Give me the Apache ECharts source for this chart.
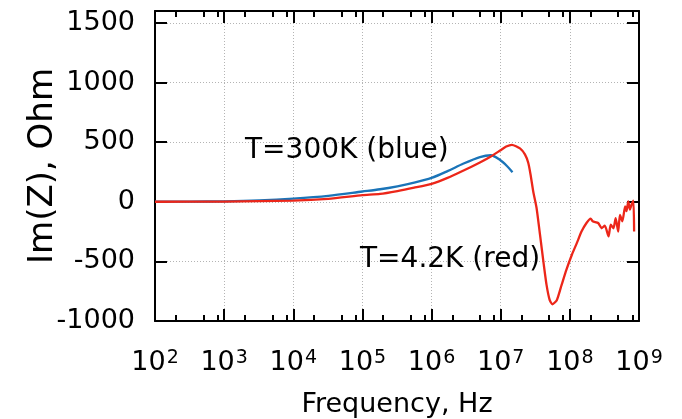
<!DOCTYPE html>
<html>
<head>
<meta charset="utf-8">
<script src="https://cdn.jsdelivr.net/npm/echarts@6/dist/echarts.min.js"></script>
<style>
  html, body { margin: 0; padding: 0; background: #fff; }
  #chart { width: 682px; height: 419px; }
</style>
</head>
<body>
<div id="chart"></div>
<script>
// Imaginary part of impedance vs frequency at two temperatures

// T = 300 K (blue)
const freqBlue = [1e2, 3.2e2, 1e3, 3.2e3, 1e4, 3.2e4, 1e5, 1.8e5, 3.2e5, 5.6e5,
  1e6, 1.7e6, 2.9e6, 5e6, 7.2e6, 9.8e6, 1.23e7, 1.48e7];
const imzBlue = [0, 1, 4, 12, 27, 50, 86, 105, 130, 160,
  200, 257, 321, 375, 390, 350, 300, 248];

// T = 4.2 K (red)
const freqRed = [1e2, 1e3, 1e4, 3.2e4, 1e5, 1.8e5, 3.2e5, 5.6e5, 1e6, 1.7e6,
  2.9e6, 5e6, 7.1e6, 9.8e6, 1.2e7, 1.45e7, 1.9e7, 2.24e7, 2.5e7, 2.7e7,
  2.95e7, 3.3e7, 3.7e7, 4.2e7, 4.6e7, 5.1e7, 5.6e7, 6.5e7, 7.6e7, 8.9e7,
  1.07e8, 1.26e8, 1.48e8, 1.74e8, 2.0e8, 2.14e8, 2.57e8, 2.88e8, 3.2e8, 3.63e8,
  3.9e8, 4.27e8, 4.6e8, 5.0e8, 5.3e8, 5.75e8, 6.3e8, 6.6e8, 7.0e8, 7.4e8,
  7.8e8, 8.3e8, 8.5e8];
const imzRed = [0, 2, 10, 25, 55, 66, 90, 118, 150, 200,
  262, 330, 378, 430, 463, 478, 448, 397, 327, 229,
  88, -52, -276, -529, -697, -823, -860, -823, -697, -571,
  -444, -347, -248, -178, -141, -164, -178, -222, -200, -290,
  -191, -222, -138, -250, -110, -164, -38, -79, 4, -66,
  -24, 10, -250];

// Axis ticks
const xMin = 1e2, xMax = 1e9;
const xMinorMultipliers = [2, 5, 8];
const yMin = -1000, yMax = 1600, yStep = 500;

const xMinorTicks = [];
for (let v = xMin; v < xMax; v *= 10) {
  xMinorMultipliers.forEach(m => xMinorTicks.push(v * m));
}

const FONT = 'DejaVu Sans';
const frameLine = { show: true, onZero: false, lineStyle: { color: '#000', width: 2 } };
const gridLine = { show: true, lineStyle: { color: '#b4b4b4', width: 1, type: [1, 2] } };
const noLine = { show: false, onZero: false };

function pairs(xs, ys) { return xs.map((x, i) => [x, ys[i]]); }

const chart = echarts.init(document.getElementById('chart'), null, { renderer: 'canvas' });

chart.setOption({
  animation: false,
  backgroundColor: '#fff',
  grid: { left: 155, right: 43, top: 11, bottom: 98, containLabel: false, outerBoundsMode: 'none' },
  xAxis: [
    {
      type: 'log', logBase: 10, min: xMin, max: xMax, position: 'bottom',
      name: 'Frequency, Hz', nameLocation: 'middle', nameGap: 70, nameMoveOverlap: false,
      nameTextStyle: { fontFamily: FONT, fontSize: 27, color: '#000' },
      axisLine: frameLine,
      axisTick: { show: true, inside: true, length: 12, lineStyle: { color: '#000', width: 2 } },
      axisLabel: {
        margin: 28, color: '#000',
        formatter: v => '{b|10}{s|' + Math.round(Math.log10(v)) + '}',
        rich: {
          b: { fontFamily: FONT, fontSize: 27, color: '#000' },
          s: { fontFamily: FONT, fontSize: 19, color: '#000', verticalAlign: 'top', padding: [0, 0, 0, 1] }
        }
      },
      splitLine: gridLine, minorTick: { show: false }
    },
    {
      type: 'log', logBase: 10, min: xMin, max: xMax, position: 'bottom',
      axisLine: noLine,
      axisTick: { show: true, inside: true, length: 6, customValues: xMinorTicks, lineStyle: { color: '#000', width: 2 } },
      axisLabel: { show: false }, splitLine: { show: false }
    },
    {
      type: 'log', logBase: 10, min: xMin, max: xMax, position: 'top',
      axisLine: frameLine,
      axisTick: { show: true, inside: true, length: 12, lineStyle: { color: '#000', width: 2 } },
      axisLabel: { show: false }, splitLine: { show: false }
    },
    {
      type: 'log', logBase: 10, min: xMin, max: xMax, position: 'top',
      axisLine: noLine,
      axisTick: { show: true, inside: true, length: 6, customValues: xMinorTicks, lineStyle: { color: '#000', width: 2 } },
      axisLabel: { show: false }, splitLine: { show: false }
    }
  ],
  yAxis: [
    {
      type: 'value', min: yMin, max: yMax, interval: yStep, position: 'left',
      name: 'Im(Z), Ohm', nameLocation: 'middle', nameGap: 95, nameMoveOverlap: false,
      nameTextStyle: { fontFamily: FONT, fontSize: 34, color: '#000' },
      axisLine: frameLine,
      axisTick: { show: true, inside: true, length: 12, lineStyle: { color: '#000', width: 2 } },
      axisLabel: {
        margin: 20, color: '#000', fontFamily: FONT, fontSize: 27,
        showMaxLabel: false,
        formatter: v => (v > 1500 ? '' : String(v))
      },
      splitLine: gridLine
    },
    {
      type: 'value', min: yMin, max: yMax, interval: yStep, position: 'right',
      axisLine: frameLine,
      axisTick: { show: true, inside: true, length: 12, lineStyle: { color: '#000', width: 2 } },
      axisLabel: { show: false }, splitLine: { show: false }
    }
  ],
  graphic: [
    { type: 'text', left: 245, top: 137, z: 10,
      style: { text: 'T=300K (blue)', font: '28px "DejaVu Sans"', fill: '#000' } },
    { type: 'text', left: 360, top: 246, z: 10,
      style: { text: 'T=4.2K (red)', font: '28px "DejaVu Sans"', fill: '#000' } }
  ],
  series: [
    {
      name: 'T=300K', type: 'line', xAxisIndex: 0, yAxisIndex: 0,
      data: pairs(freqBlue, imzBlue), showSymbol: false, smooth: 0.3,
      lineStyle: { color: '#1a74b8', width: 2.3 }, z: 3
    },
    {
      name: 'T=4.2K', type: 'line', xAxisIndex: 0, yAxisIndex: 0,
      data: pairs(freqRed, imzRed), showSymbol: false, smooth: 0.2,
      lineStyle: { color: '#ec2619', width: 2.3 }, z: 4
    }
  ]
});
</script>
</body>
</html>
